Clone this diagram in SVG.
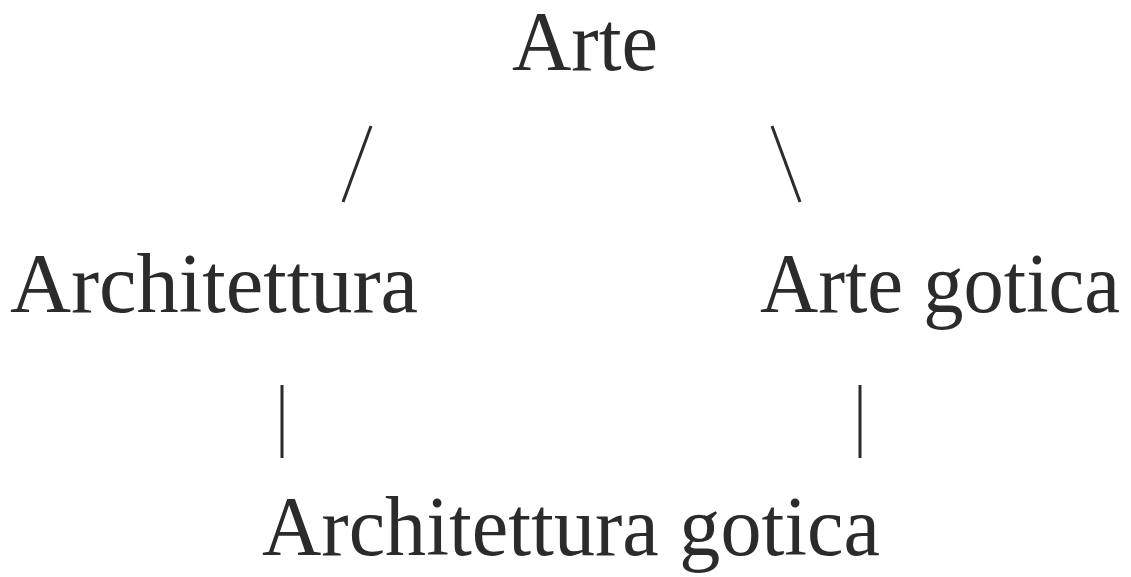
<svg xmlns="http://www.w3.org/2000/svg" width="1131" height="577" viewBox="0 0 1131 577">
  <style>
    .label { font-family: "Liberation Serif", "DejaVu Serif", serif; font-size: 84px; fill: #2b2b2b; text-anchor: middle; }
    .edge { stroke: #2b2b2b; stroke-width: 3; stroke-linecap: butt; fill: none; }
  </style>
  <rect width="1131" height="577" fill="#ffffff"/>

  <g id="connectors">
    <line class="edge" x1="371" y1="126" x2="343" y2="202"/>
    <line class="edge" x1="772" y1="126" x2="800" y2="202"/>
    <line class="edge" x1="282" y1="385" x2="282" y2="458"/>
    <line class="edge" x1="860" y1="385" x2="860" y2="458"/>
  </g>

  <g id="node-arte">
    <text class="label" x="585" y="70" textLength="146" lengthAdjust="spacingAndGlyphs">Arte</text>
  </g>
  <g id="node-architettura">
    <text class="label" x="214" y="312" textLength="408" lengthAdjust="spacingAndGlyphs">Architettura</text>
  </g>
  <g id="node-arte-gotica">
    <text class="label" x="940" y="312" textLength="360" lengthAdjust="spacingAndGlyphs">Arte gotica</text>
  </g>
  <g id="node-architettura-gotica">
    <text class="label" x="571" y="555" textLength="618" lengthAdjust="spacingAndGlyphs">Architettura gotica</text>
  </g>
</svg>
